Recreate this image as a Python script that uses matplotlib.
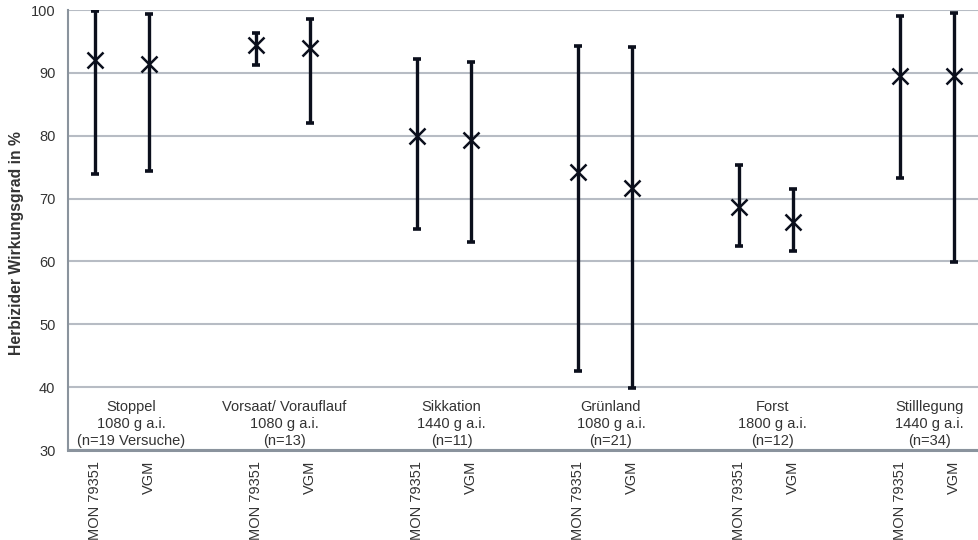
import matplotlib
matplotlib.use("Agg")
import matplotlib.pyplot as plt
import numpy as np

plt.rcParams['font.family'] = ['Liberation Sans', 'DejaVu Sans']

groups = ["Stoppel\n1080 g a.i.\n(n=19 Versuche)",
          "Vorsaat/ Vorauflauf\n1080 g a.i.\n(n=13)",
          "Sikkation\n1440 g a.i.\n(n=11)",
          "Grünland\n1080 g a.i.\n(n=21)",
          "Forst\n1800 g a.i.\n(n=12)",
          "Stilllegung\n1440 g a.i.\n(n=34)"]
products = ["MON 79351", "VGM"]

mon_mean = [92.0, 94.4, 80.0, 74.3, 68.6, 89.5]
mon_max = [99.8, 96.4, 92.2, 94.3, 75.4, 99.0]
mon_min = [73.9, 91.3, 65.2, 42.6, 62.5, 73.2]
vgm_mean = [91.4, 94.0, 79.3, 71.7, 66.3, 89.5]
vgm_max = [99.4, 98.6, 91.7, 94.1, 71.5, 99.6]
vgm_min = [74.4, 82.0, 63.1, 39.9, 61.7, 59.9]

# horizontal nudge of each group caption (in category units), as in the reference
label_shift = [0.18, 0.03, 0.14, 0.11, 0.11, 0.04]

fig = plt.figure(figsize=(9.79, 5.40), dpi=100)
ax = fig.add_axes([68/979, 1 - 450/540, 913/979, 440/540])

dark = '#0b0f1c'
grid_c = '#b7bcc4'
spine_c = '#8a939d'
text_c = '#333333'

n = len(groups)
mon_x = np.arange(n) * 3
vgm_x = mon_x + 1

for xs, mean, lo, hi in [(mon_x, mon_mean, mon_min, mon_max),
                         (vgm_x, vgm_mean, vgm_min, vgm_max)]:
    mean = np.array(mean); lo = np.array(lo); hi = np.array(hi)
    ax.errorbar(xs, mean, yerr=[mean - lo, hi - mean], fmt='none',
                ecolor=dark, elinewidth=2.4, capsize=3, capthick=2.6, zorder=3)
    ax.plot(xs, mean, linestyle='none', marker='x', markersize=11,
            markeredgewidth=1.8, color=dark, zorder=4)

ax.set_xlim(-0.5, 3 * n - 1 - 0.5)
ax.set_ylim(30, 100)
ax.set_yticks(np.arange(30, 101, 10))
ax.yaxis.grid(True, color=grid_c, linewidth=1.5)
ax.set_axisbelow(True)
for s in ['top', 'right']:
    ax.spines[s].set_visible(False)
ax.spines['left'].set_color(spine_c)
ax.spines['left'].set_linewidth(1.5)
ax.spines['bottom'].set_color(spine_c)
ax.spines['bottom'].set_linewidth(2.2)

ticks = []
labels = []
for i in range(n):
    ticks += [mon_x[i], vgm_x[i]]
    labels += products
ax.set_xticks(ticks)
ax.set_xticklabels(labels, rotation=90, fontsize=10.5, color=text_c, va='top')
ax.tick_params(axis='x', length=0, pad=8)
ax.tick_params(axis='y', length=0, labelsize=10.5, labelcolor=text_c, pad=9)

for i, g in enumerate(groups):
    ax.text(mon_x[i] + 0.5 + label_shift[i], 38.0, g, ha='center', va='top',
            fontsize=10.5, color=text_c, linespacing=1.3)

ax.set_ylabel("Herbizider Wirkungsgrad in %", fontsize=11.3, fontweight='bold',
              color=text_c)
ax.yaxis.set_label_coords(-0.048, 0.47)

fig.savefig("out.png", dpi=100)
